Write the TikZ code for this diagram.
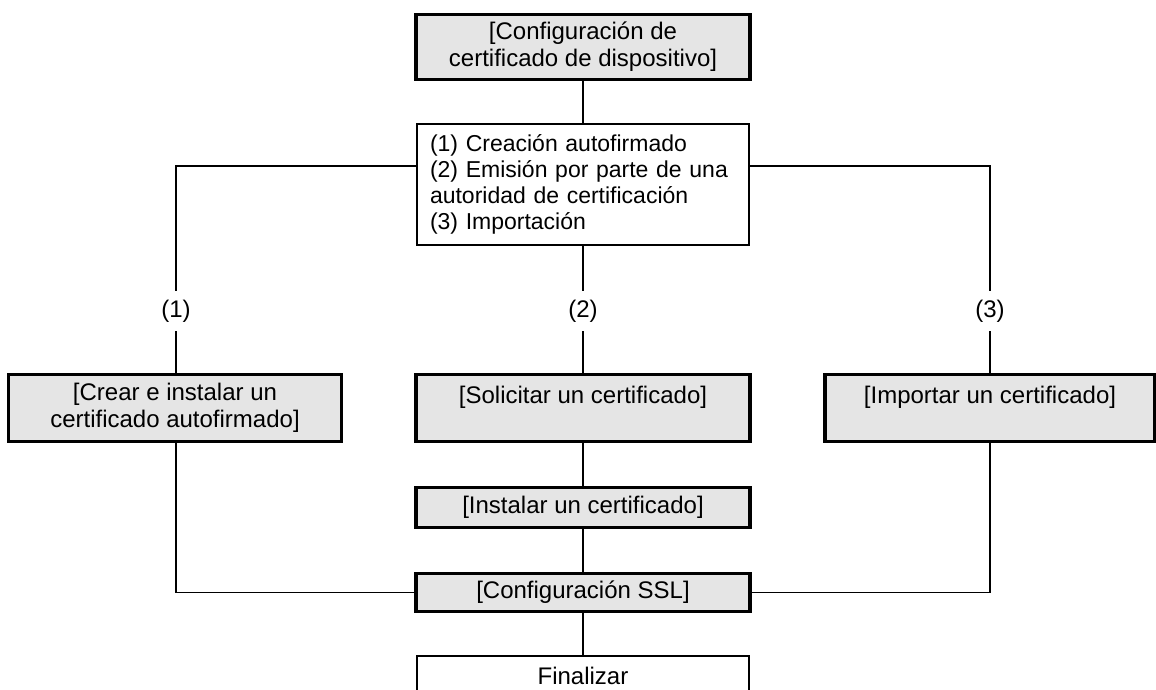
\documentclass[tikz,border=0pt]{standalone}
\usepackage{fontspec}
\setmainfont{Liberation Sans}
\usetikzlibrary{positioning}
\definecolor{cfgray}{RGB}{229,229,229}

\begin{document}
\begin{tikzpicture}[
  x=1pt, y=-1pt,
  every node/.style={font=\fontsize{24}{27}\selectfont},
  box/.style={draw, line width=3.5pt, fill=cfgray, minimum width=334pt, align=center, inner sep=0pt},
  plain/.style={draw, line width=1.6pt, fill=white, minimum width=332pt, inner sep=0pt},
  lbl/.style={inner sep=9pt},
  link/.style={line width=1.6pt}
]
\clip (0,0) rectangle (1156,690);
\fill[white] (0,0) rectangle (1156,690);

% top of the flow
\node[box, minimum height=65pt] (cfg) at (583,47) {[Configuración de\\certificado de dispositivo]};
\node[plain, minimum height=121pt, text width=306pt, align=left, font=\fontsize{23}{26}\selectfont] (opts) at (583,184.5)
  {(1) Creación autofirmado\\(2) Emisión por parte de una\\autoridad de certificación\\(3) Importación};

% branch labels
\node[lbl] (lab1) at (176,311) {(1)};
\node[lbl] (lab2) at (583,311) {(2)};
\node[lbl] (lab3) at (990,311) {(3)};

% the three ways
\node[box, minimum width=333pt, minimum height=67pt] (crear) at (175,408) {[Crear e instalar un\\certificado autofirmado]};
\node[box, minimum height=67pt] (solic) at (583,408) {[Solicitar un certificado]\\ \mbox{}};
\node[box, minimum width=330pt, minimum height=67pt] (impo) at (990,408) {[Importar un certificado]\\ \mbox{}};
\node[box, minimum height=40pt] (inst) at (583,507.5) {[Instalar un certificado]};
\node[box, minimum height=38pt] (ssl) at (583,592.5) {[Configuración SSL]};
\node[plain, anchor=north, minimum width=332pt, text height=29pt, text depth=40pt] (fin) at (583,655) {Finalizar};

\coordinate (jl) at (176,166);
\draw[link] (cfg) -- (opts);
\draw[link] (opts.west |- jl) -| (lab1);
\draw[link] (opts.east |- jl) -| (lab3);
\draw[link] (opts) -- (lab2);
\draw[link] (lab1) -- (lab1 |- crear.north);
\draw[link] (lab2) -- (solic);
\draw[link] (lab3) -- (impo);
\draw[link] (solic) -- (inst);
\draw[link] (inst) -- (ssl);
\draw[link] (ssl) -- (fin);
\draw[link] (lab1 |- crear.south) |- (ssl.west);
\draw[link] (impo.south) |- (ssl.east);
\end{tikzpicture}
\end{document}
